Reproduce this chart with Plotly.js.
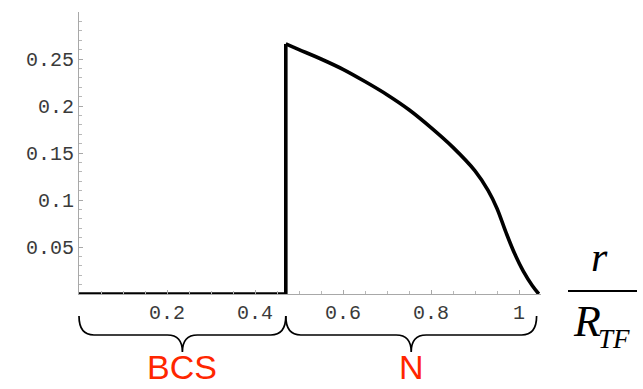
<!DOCTYPE html>
<html>
<head>
<meta charset="utf-8">
<script src="https://cdn.plot.ly/plotly-3.0.1.min.js"></script>
<style>
  html, body { margin: 0; padding: 0; background: #fff; }
  #chart { width: 643px; height: 389px; }
</style>
</head>
<body>
<div id="chart"></div>
<script>
// Gap profile across the cloud: zero in the paired core, a finite value in the normal shell
const coreR = [0, 0.47];
const coreVal = [0, 0];
const shellR = [0.47, 0.47, 0.50, 0.55, 0.60, 0.65, 0.70, 0.75, 0.80, 0.85, 0.90, 0.93, 0.95, 0.97, 0.99, 1.01, 1.03, 1.045];
const shellVal = [0, 0.266, 0.260, 0.250, 0.239, 0.226, 0.212, 0.196, 0.177, 0.156, 0.131, 0.110, 0.091, 0.066, 0.043, 0.024, 0.009, 0.0];

const xTickVals = [0.2, 0.4, 0.6, 0.8, 1];
const xTickText = ['0.2', '0.4', '0.6', '0.8', '1'];
const yTickVals = [0.05, 0.1, 0.15, 0.2, 0.25];
const yTickText = ['0.05', '0.1', '0.15', '0.2', '0.25'];

const regionNames = ['BCS', 'N'];
const regionStart = [0, 0.47];
const regionEnd = [0.47, 1.04];

const W = 643, H = 389;
const M = { l: 79, r: 102, t: 12, b: 95 };
const xRange = [0, 1.05];
const yRange = [0, 0.30];
const plotW = W - M.l - M.r, plotH = H - M.t - M.b;

// helpers: data x -> paper x, and pixel offsets below the axis -> paper y
const px = v => (v - xRange[0]) / (xRange[1] - xRange[0]);
const pxAbs = p => (p - M.l) / plotW;
const pyBelow = d => -d / plotH;           // d pixels below the x axis
const pyAbs = p => (H - M.b - p) / plotH;  // absolute pixel row

const lineStyle = { color: '#000', width: 3.6 };

const traces = [
  { x: coreR, y: coreVal, mode: 'lines', line: lineStyle, hoverinfo: 'skip', cliponaxis: false },
  { x: shellR.slice(0, 2), y: shellVal.slice(0, 2), mode: 'lines', line: lineStyle, hoverinfo: 'skip', cliponaxis: false },
  { x: shellR.slice(1), y: shellVal.slice(1), mode: 'lines', line: Object.assign({ shape: 'spline', smoothing: 1 }, lineStyle), hoverinfo: 'skip', cliponaxis: false }
];

// curly braces under each region
function bracePath(a, b) {
  const x0 = px(a), x1 = px(b), xm = (x0 + x1) / 2;
  const r = 15 / plotW;
  const y0 = pyBelow(22), y1 = pyBelow(41), y2 = pyBelow(58);
  return `M ${x0} ${y0} Q ${x0} ${y1} ${x0 + r} ${y1} L ${xm - r} ${y1} ` +
         `Q ${xm} ${y1} ${xm} ${y2} Q ${xm} ${y1} ${xm + r} ${y1} ` +
         `L ${x1 - r} ${y1} Q ${x1} ${y1} ${x1} ${y0}`;
}

const shapes = regionNames.map((n, i) => ({
  type: 'path', xref: 'paper', yref: 'paper',
  path: bracePath(regionStart[i], regionEnd[i]),
  line: { color: '#000', width: 1.7 }
}));
// fraction bar of the axis label
shapes.push({
  type: 'line', xref: 'paper', yref: 'paper',
  x0: pxAbs(568), x1: pxAbs(637), y0: pyAbs(291), y1: pyAbs(291),
  line: { color: '#000', width: 2 }
});

const annotations = regionNames.map((n, i) => ({
  text: n, xref: 'paper', yref: 'paper', showarrow: false,
  x: px((regionStart[i] + regionEnd[i]) / 2), y: pyBelow(94),
  xanchor: 'center', yanchor: 'bottom',
  font: { family: 'Liberation Sans, Arial, sans-serif', size: 34, color: '#ff2600' }
}));
annotations.push(
  { text: '<i>r</i>', xref: 'paper', yref: 'paper', showarrow: false,
    x: pxAbs(599), y: pyAbs(282), xanchor: 'center', yanchor: 'bottom',
    font: { family: 'Liberation Serif, Times New Roman, serif', size: 42, color: '#000' } },
  { text: '<i>R</i>', xref: 'paper', yref: 'paper', showarrow: false,
    x: pxAbs(587), y: pyAbs(348), xanchor: 'center', yanchor: 'bottom',
    font: { family: 'Liberation Serif, Times New Roman, serif', size: 44, color: '#000' } },
  { text: '<i>TF</i>', xref: 'paper', yref: 'paper', showarrow: false,
    x: pxAbs(614), y: pyAbs(356), xanchor: 'center', yanchor: 'bottom',
    font: { family: 'Liberation Serif, Times New Roman, serif', size: 27, color: '#000' } }
);

const tickFont = { family: 'Liberation Mono, DejaVu Sans Mono, monospace', size: 20, color: '#3a3a3a' };

const layout = {
  width: W, height: H,
  margin: M,
  paper_bgcolor: '#fff', plot_bgcolor: '#fff',
  showlegend: false,
  xaxis: {
    range: xRange, showgrid: false, zeroline: false,
    showline: true, linecolor: '#a8a8a8', linewidth: 1,
    tickmode: 'array', tickvals: xTickVals, ticktext: xTickText,
    ticks: 'inside', ticklen: 4, tickcolor: '#a8a8a8', tickwidth: 1,
    minor: { dtick: 0.05, tick0: 0, ticks: 'inside', ticklen: 3, tickcolor: '#b8b8b8', showgrid: false },
    tickfont: tickFont
  },
  yaxis: {
    range: yRange, showgrid: false, zeroline: false,
    showline: true, linecolor: '#a8a8a8', linewidth: 1,
    tickmode: 'array', tickvals: yTickVals, ticktext: yTickText,
    ticks: 'inside', ticklen: 4, tickcolor: '#a8a8a8', tickwidth: 1,
    minor: { dtick: 0.01, tick0: 0, ticks: 'inside', ticklen: 3, tickcolor: '#b8b8b8', showgrid: false },
    tickfont: tickFont
  },
  shapes: shapes,
  annotations: annotations
};

Plotly.newPlot('chart', traces, layout, { staticPlot: true, displayModeBar: false });
</script>
</body>
</html>
